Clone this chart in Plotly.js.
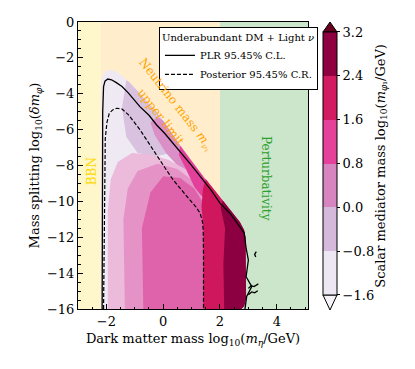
<!DOCTYPE html>
<html>
<head>
<meta charset="utf-8">
<script src="https://cdn.plot.ly/plotly-3.0.1.min.js"></script>
<style>
  body { margin: 0; background: white; }
  #chart { width: 415px; height: 369px; }
</style>
</head>
<body>
<div id="chart"></div>
<script>
var CHART = document.getElementById("chart");
var FONT = 'DejaVu Serif, serif';

// axis ranges
var xRange = [-3, 5.1];
var yRange = [-16, 0];

// shaded exclusion bands (x extents)
var bbnX = [-3, -2.2];
var nuX = [-2.2, 2];
var pertX = [2, 5.1];

// colour levels of the mediator mass, log10(m_phi1/GeV)
var cbLevels = [-1.6, -0.8, 0.0, 0.8, 1.6, 2.4, 3.2];
var cbColors = ['#ece7f2', '#d4b9da', '#d685c1', '#e5419a', '#d21b60', '#8f0040'];

// regions of the scatter (back to front)
var envX = [-2.18, -2.18, -2.12, -2.0, -1.85, -1.65, -1.45, -1.2, -0.9, -0.6, -0.3, 0.0, 0.3, 0.6, 1.0, 1.5, 2.0, 2.4, 2.7, 2.85, 2.9, 2.92, 2.85, 2.75];
var envY = [-16, -3.3, -2.95, -2.72, -2.66, -2.78, -3.0, -3.35, -3.85, -4.35, -4.9, -5.5, -6.2, -6.9, -7.75, -8.75, -9.75, -10.55, -11.15, -11.6, -12.0, -15.4, -15.85, -16];

var lpX = [-1.3, -1.2, -0.9, -0.6, -0.3, 0.0, 0.3, 0.45, 0.3, -0.3, -0.9, -1.3, -1.45];
var lpY = [-3.25, -3.35, -3.85, -4.35, -4.9, -5.5, -6.2, -6.55, -7.3, -7.5, -7.3, -6.4, -4.8];

var mpX = [-0.2, 0.0, 0.3, 0.6, 0.9, 0.9, 0.5, 0.1, -0.3, -0.45];
var mpY = [-5.3, -5.5, -6.2, -6.9, -7.55, -8.3, -8.0, -7.3, -6.3, -5.6];

var bodyAX = [-1.95, -1.95, -1.85, -1.6, -1.1, -0.4, 0.2, 0.9, 1.3, 1.45, 1.45];
var bodyAY = [-16, -10.5, -8.8, -7.8, -7.3, -7.4, -7.7, -8.3, -9.3, -10.5, -16];

var bodyBX = [-1.35, -1.4, -1.25, -0.9, -0.2, 0.5, 1.0, 1.45, 1.45];
var bodyBY = [-16, -11, -9.3, -8.3, -7.9, -8.2, -8.8, -10.0, -16];

var bodyCX = [-0.7, -0.75, -0.45, 0.0, 0.6, 1.1, 1.45, 1.45];
var bodyCY = [-16, -11.5, -9.5, -8.6, -8.7, -9.3, -10.2, -16];

var hpX = [0.6, 1.0, 1.5, 1.65, 1.45, 1.1, 0.8, 0.55];
var hpY = [-6.9, -7.75, -8.75, -9.1, -9.9, -9.2, -8.2, -7.4];

var crX = [1.5, 2.0, 2.4, 2.7, 2.85, 2.9, 2.92, 2.85, 2.75, 1.42, 1.42, 1.35, 1.4];
var crY = [-8.75, -9.75, -10.55, -11.15, -11.6, -12.0, -15.4, -15.85, -16, -16, -11.6, -10.3, -9.3];

var dkX = [2.1, 2.4, 2.7, 2.85, 2.9, 2.92, 2.85, 2.75, 2.15, 2.12, 2.18, 2.02];
var dkY = [-9.95, -10.55, -11.15, -11.6, -12.0, -15.4, -15.85, -16, -16, -13.5, -11.5, -10.3];

var layers = [
    [envX, envY, '#efe9f4'],
    [lpX, lpY, '#d9c2df'],
    [mpX, mpY, '#da8fc7'],
    [bodyAX, bodyAY, '#ecbadb'],
    [bodyBX, bodyBY, '#e593c7'],
    [bodyCX, bodyCY, '#df63aa'],
    [hpX, hpY, '#e2409a'],
    [crX, crY, '#cf175d'],
    [dkX, dkY, '#8c0041'],
];

// contours (null separates pieces)
var plrX = [-2.15, -2.15, -2.13, -2.1, -2.05, -1.95, -1.82, -1.65, -1.45, -1.23, -0.82, -0.5, -0.23, 0.05, 0.35, 0.65, 0.94, 1.2, 1.41, 1.7, 2.0, 2.35, 2.6, 2.85, 2.92, 3.0, 2.92, 3.12, 2.94, 2.88,
    null, 3.28, 3.22, 3.26,
    null, 3.0, 3.1, 3.2, 3.35,
    null, 3.0, 3.12, 3.22, 3.33];
var plrY = [-16, -9, -5, -3.6, -3.3, -3.18, -3.22, -3.38, -3.6, -3.95, -4.72, -5.2, -5.74, -6.2, -6.76, -7.3, -7.88, -8.4, -8.8, -9.4, -10.1, -10.66, -11.2, -11.75, -12.6, -13.27, -14.2, -14.75, -15.3, -16,
    null, -12.8, -12.95, -13.1,
    null, -14.85, -14.7, -14.75, -14.6,
    null, -15.2, -15.05, -15.1, -14.98];

var postX = [-2.1, -2.08, -2.06, -2.04, -1.98, -1.9, -1.78, -1.64, -1.45, -1.22, -0.82, -0.5, -0.23, 0.05, 0.35, 0.65, 0.94, 1.15, 1.30, 1.38, 1.41, 1.42, 1.42];
var postY = [-16, -12, -8.25, -6.5, -5.6, -5.1, -4.9, -4.81, -4.85, -5.18, -6.0, -6.8, -7.45, -8.1, -8.8, -9.4, -9.92, -10.3, -10.66, -11.1, -11.6, -13, -16];

function band(xs, color) {
    return {
        x: [xs[0], xs[1], xs[1], xs[0]],
        y: [yRange[0], yRange[0], yRange[1], yRange[1]],
        fill: 'toself', fillcolor: color, mode: 'lines',
        line: { width: 0 }, showlegend: false, hoverinfo: 'skip'
    };
}

var data = [
    band(bbnX, '#fff7cc'),
    band(nuX, '#ffedcc'),
    band(pertX, '#cce6cc'),
];

layers.forEach(function (l) {
    data.push({
        x: l[0], y: l[1], fill: 'toself', fillcolor: l[2], mode: 'lines',
        line: { width: 0 }, showlegend: false, hoverinfo: 'skip'
    });
});

data.push({
    x: plrX, y: plrY, mode: 'lines', name: 'PLR 95.45% C.L.',
    line: { color: 'black', width: 1.3 }, connectgaps: false
});
data.push({
    x: postX, y: postY, mode: 'lines', name: 'Posterior 95.45% C.R.',
    line: { color: 'black', width: 1.2, dash: '4px,2px' }
});

// discrete colour scale for the colour bar
var cscale = [];
cbColors.forEach(function (c, i) {
    cscale.push([i / cbColors.length, c]);
    cscale.push([(i + 1) / cbColors.length, c]);
});

data.push({
    x: cbLevels.map(function () { return null; }),
    y: cbLevels.map(function () { return null; }),
    mode: 'markers', showlegend: false, hoverinfo: 'skip',
    marker: {
        color: cbLevels, cmin: cbLevels[0], cmax: cbLevels[cbLevels.length - 1],
        colorscale: cscale, showscale: true,
        colorbar: {
            x: 1.065, xanchor: 'left', xpad: 0,
            y: 0.507, yanchor: 'middle', ypad: 0,
            lenmode: 'pixels', len: 263, thickness: 14,
            outlinewidth: 1, outlinecolor: 'black',
            tickvals: cbLevels, tickformat: '.1f',
            ticks: 'outside', ticklen: 3, tickcolor: 'black',
            tickfont: { family: FONT, size: 13, color: 'black' },
            title: { text: '' }
        }
    }
});

var axisBase = {
    ticks: 'inside', ticklen: 5, tickcolor: 'black',
    showline: true, linecolor: 'black', linewidth: 1, mirror: true,
    showgrid: false, zeroline: false,
    tickfont: { family: FONT, size: 13, color: 'black' },
    minor: { ticks: 'inside', ticklen: 2.5, dtick: 0.5, tickcolor: 'black', showgrid: false },
};

var orange = { family: FONT, size: 12, color: '#ffa500' };

var layout = {
    width: 415, height: 369,
    margin: { l: 78, r: 107, t: 22, b: 60 },
    paper_bgcolor: 'white', plot_bgcolor: 'white',
    font: { family: FONT, color: 'black' },
    xaxis: Object.assign({}, axisBase, {
        range: xRange, tickvals: [-2, 0, 2, 4],
        title: { text: 'Dark matter mass log<sub>10</sub>(<i>m</i><sub><i>η</i></sub>/GeV)', font: { family: FONT, size: 13 }, standoff: 6 }
    }),
    yaxis: Object.assign({}, axisBase, {
        range: yRange, dtick: 2,
        title: { text: 'Mass splitting log<sub>10</sub>(<i>δm</i><sub><i>φ</i></sub>)', font: { family: FONT, size: 13 }, standoff: 4 }
    }),
    legend: {
        x: 0.352, xanchor: 'left', y: 0.983, yanchor: 'top',
        bgcolor: 'white', bordercolor: 'black', borderwidth: 1,
        font: { family: FONT, size: 10 },
        title: { text: 'Underabundant DM + Light <i>ν</i>', font: { family: FONT, size: 10 } },
        tracegroupgap: 0
    },
    annotations: [
        { x: -2.52, y: -8.34, xref: 'x', yref: 'y', text: 'BBN', showarrow: false, textangle: -90,
          font: { family: FONT, size: 12, color: '#ffd700' } },
        { x: 3.64, y: -8.73, xref: 'x', yref: 'y', text: 'Perturbativity', showarrow: false, textangle: 90,
          font: { family: FONT, size: 12, color: '#2ca02c' } },
        { x: 0.44, y: -4.63, xref: 'x', yref: 'y', text: 'Neutrino mass <i>m</i><sub><i>ν</i>₁</sub>',
          showarrow: false, textangle: 52, font: orange },
        { x: -0.08, y: -5.3, xref: 'x', yref: 'y', text: 'upper limit',
          showarrow: false, textangle: 52, font: orange },
        { x: 1.364, y: 0.5, xref: 'paper', yref: 'paper', showarrow: false, textangle: -90,
          text: 'Scalar mediator mass log<sub>10</sub>(<i>m</i><sub><i>φ</i>₁</sub>/GeV)',
          font: { family: FONT, size: 13, color: 'black' } }
    ],
    shapes: [
        // colour bar extension triangles
        { type: 'path', xref: 'paper', yref: 'paper', path: 'M 1.0652 0.9652 L 1.1261 0.9652 L 1.0957 1.0 Z',
          fillcolor: '#67001f', line: { color: 'black', width: 1 } },
        { type: 'path', xref: 'paper', yref: 'paper', path: 'M 1.0652 0.0488 L 1.1261 0.0488 L 1.0957 -0.0035 Z',
          fillcolor: '#f7f4f9', line: { color: 'black', width: 1 } }
    ]
};

var config = { responsive: false, displayModeBar: false };
Plotly.newPlot(CHART, data, layout, config);
</script>
</body>
</html>
